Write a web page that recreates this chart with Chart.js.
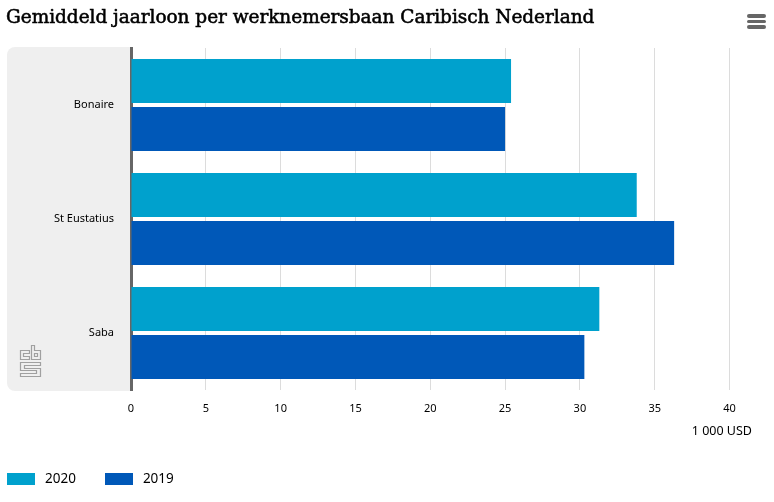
<!DOCTYPE html>
<html lang="nl">
<head>
<meta charset="UTF-8">
<title>Gemiddeld jaarloon per werknemersbaan Caribisch Nederland</title>
<script src="https://cdn.jsdelivr.net/npm/chart.js"></script>
<style>
  html, body { margin: 0; padding: 0; background: #fff; }
  .pagina { position: relative; width: 774px; height: 502px; overflow: hidden; font-family: "Noto Sans", sans-serif; color: #000; }
  #grafiek { position: absolute; left: 0; top: 0; }
  h1 { position: absolute; left: 6px; top: 6px; margin: 0; font: normal 18.5px "DejaVu Serif", serif; -webkit-text-stroke: 0.55px #000; white-space: nowrap; letter-spacing: -0.04px; }
  .menu { position: absolute; left: 747px; top: 14px; width: 19px; }
  .menu div { height: 3.5px; margin-bottom: 2.2px; background: #666; border-radius: 2px; }
  .eenheid { position: absolute; right: 22px; top: 422px; font-size: 12.5px; }
  .logo { position: absolute; left: 19px; top: 343px; }
  .legenda { position: absolute; left: 7px; top: 469px; display: flex; font-size: 13.5px; line-height: 19px; }
  .legenda span { display: flex; align-items: center; margin-right: 29px; }
  .legenda i { width: 28px; height: 12px; margin-right: 10px; }
</style>
</head>
<body>
<div class="pagina">
  <canvas id="grafiek" width="774" height="502"></canvas>
  <h1>Gemiddeld jaarloon per werknemersbaan Caribisch Nederland</h1>
  <div class="menu"><div></div><div></div><div></div></div>
  <svg class="logo" width="24" height="36" viewBox="0 0 24 36" fill="none" stroke="#a0a0a0" stroke-width="1.2">
    <path d="M10.5 7.5H1.5V16.5H10.5V13.5H4.5V10.5H10.5Z"/>
    <path d="M12.5 2.5H15.5V7.5H21.5V16.5H12.5ZM15.5 10.5H18.5V13.5H15.5Z"/>
    <path d="M21.5 19.5H1.5V27.5H17.5V30.5H1.5V33.5H21.5V25.5H5.5V22.5H21.5Z"/>
  </svg>
  <div class="eenheid">1 000 USD</div>
  <div class="legenda" id="legenda"></div>
</div>

<script>
var categorieen = ['Bonaire', 'St Eustatius', 'Saba'];
var jaren = ['2020', '2019'];
var waarden2020 = [25.4, 33.8, 31.3];
var waarden2019 = [25.0, 36.3, 30.3];
var kleuren = ['#00a1cd', '#0058b8'];
var asMaximum = 40;
var asStap = 5;

// grijze band achter de categorielabels
var band = {
    id: 'band',
    beforeDraw: function (chart) {
        var c = chart.ctx, a = chart.chartArea;
        c.save();
        c.fillStyle = '#efefef';
        c.beginPath();
        c.roundRect(7, a.top - 1, a.left - 7, a.bottom - a.top + 2, [8, 0, 0, 8]);
        c.fill();
        c.restore();
    }
};

new Chart(document.getElementById('grafiek'), {
    type: 'bar',
    data: {
        labels: categorieen,
        datasets: [
            { label: jaren[0], data: waarden2020, backgroundColor: kleuren[0] },
            { label: jaren[1], data: waarden2019, backgroundColor: kleuren[1] }
        ]
    },
    options: {
        indexAxis: 'y',
        responsive: false,
        animation: false,
        devicePixelRatio: 1,
        categoryPercentage: 0.842,
        barPercentage: 0.917,
        layout: { padding: { left: 7, top: 48, right: 44.5, bottom: 82 } },
        plugins: { legend: { display: false }, title: { display: false }, tooltip: { enabled: false } },
        scales: {
            x: {
                min: 0,
                max: asMaximum,
                ticks: { stepSize: asStap, color: '#000', padding: 12, font: { family: 'Noto Sans', size: 11 }, maxRotation: 0 },
                grid: { color: '#dcdcdc', lineWidth: 1, drawTicks: false },
                border: { display: false },
                afterFit: function (as) { as.height = 30; }
            },
            y: {
                ticks: { color: '#000', padding: 17, font: { family: 'Noto Sans', size: 11 } },
                grid: { display: false, drawTicks: false },
                border: { color: '#666', width: 3 },
                afterFit: function (as) { as.width = 124; }
            }
        }
    },
    plugins: [band]
});

// legenda
jaren.forEach(function (jaar, i) {
    var item = document.createElement('span');
    item.innerHTML = '<i style="background:' + kleuren[i] + '"></i>' + jaar;
    document.getElementById('legenda').appendChild(item);
});
</script>
</body>
</html>
